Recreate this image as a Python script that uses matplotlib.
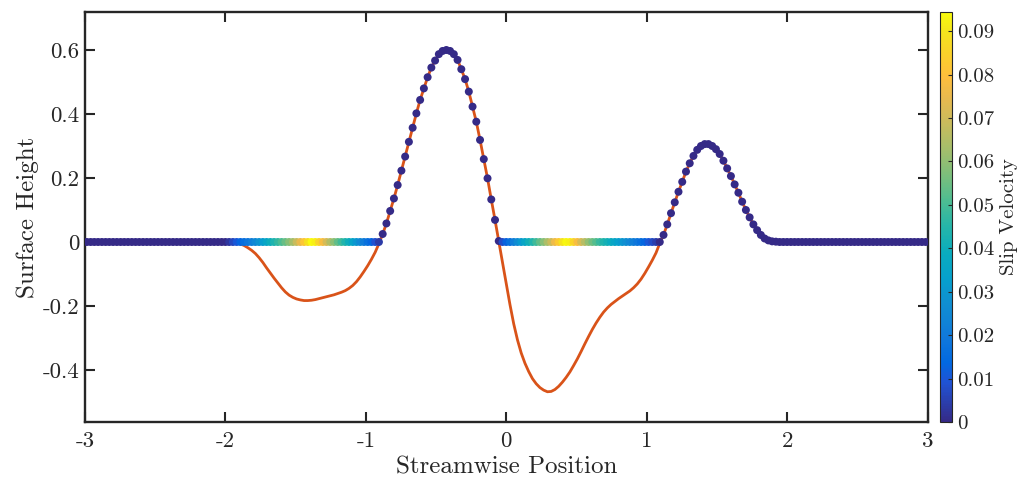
import numpy as np
import matplotlib
matplotlib.use("Agg")
import matplotlib.pyplot as plt
from matplotlib.colors import LinearSegmentedColormap

plt.rcParams['font.family'] = ['cmr10', 'DejaVu Serif']
plt.rcParams['mathtext.fontset'] = 'cm'
plt.rcParams['axes.unicode_minus'] = False

# cell-centred grid, 225 points on [-3, 3]
n_cells = 225
x_min, x_max = -3.0, 3.0

# surface profile (orange line), grid index 38..186, zero elsewhere
profile_start = 38
profile_vals = [
    0.000, -0.001, -0.003, -0.006, -0.011, -0.018, -0.026, -0.036, -0.049, -0.064,
    -0.081, -0.097, -0.113, -0.128, -0.143, -0.156, -0.166, -0.173, -0.178, -0.181,
    -0.183, -0.183, -0.182, -0.180, -0.177, -0.174, -0.171, -0.168, -0.165, -0.161,
    -0.157, -0.152, -0.145, -0.136, -0.124, -0.109, -0.092, -0.074, -0.054, -0.032,
    -0.005, 0.025, 0.058, 0.097, 0.136, 0.178, 0.223, 0.267, 0.313, 0.357,
    0.402, 0.444, 0.480, 0.515, 0.545, 0.567, 0.587, 0.597, 0.600, 0.597,
    0.587, 0.569, 0.540, 0.509, 0.470, 0.423, 0.376, 0.319, 0.259, 0.199,
    0.133, 0.069, 0.003, -0.064, -0.131, -0.196, -0.256, -0.306, -0.347, -0.379,
    -0.405, -0.427, -0.443, -0.455, -0.463, -0.468, -0.467, -0.461, -0.451, -0.438,
    -0.423, -0.406, -0.386, -0.365, -0.342, -0.318, -0.295, -0.273, -0.253, -0.235,
    -0.219, -0.206, -0.195, -0.186, -0.177, -0.169, -0.161, -0.153, -0.143, -0.131,
    -0.116, -0.098, -0.078, -0.057, -0.034, -0.004, 0.022, 0.055, 0.090, 0.124,
    0.157, 0.188, 0.220, 0.246, 0.269, 0.288, 0.300, 0.306, 0.306, 0.300,
    0.290, 0.275, 0.254, 0.230, 0.206, 0.180, 0.154, 0.126, 0.100, 0.077,
    0.055, 0.037, 0.022, 0.011, 0.005, 0.002, 0.001, 0.000, 0.000,
]

# slip velocity in the two non-contact zones
slip_left_start = 38
slip_left = [
    0.0028, 0.0066, 0.0103, 0.0132, 0.0160, 0.0188, 0.0216, 0.0244, 0.0282, 0.0320,
    0.0357, 0.0395, 0.0432, 0.0470, 0.0508, 0.0545, 0.0583, 0.0630, 0.0686, 0.0752,
    0.0818, 0.0884, 0.0944, 0.0921, 0.0855, 0.0780, 0.0714, 0.0649, 0.0592, 0.0536,
    0.0489, 0.0442, 0.0395, 0.0348, 0.0301, 0.0254, 0.0207, 0.0169, 0.0132, 0.0085,
    0.0038,
]
slip_right_start = 111
slip_right = [
    0.0075, 0.0122, 0.0169, 0.0216, 0.0263, 0.0310, 0.0357, 0.0404, 0.0442, 0.0489,
    0.0536, 0.0583, 0.0639, 0.0696, 0.0761, 0.0827, 0.0893, 0.0936, 0.0921, 0.0855,
    0.0780, 0.0714, 0.0658, 0.0602, 0.0555, 0.0517, 0.0479, 0.0442, 0.0414, 0.0385,
    0.0357, 0.0329, 0.0301, 0.0273, 0.0244, 0.0216, 0.0188, 0.0160, 0.0132, 0.0103,
    0.0075, 0.0047,
]

x_ticks = [-3, -2, -1, 0, 1, 2, 3]
y_ticks = [-0.4, -0.2, 0, 0.2, 0.4, 0.6]
y_ticklabels = ['-0.4', '-0.2', '0', '0.2', '0.4', '0.6']
cb_ticks = [0, 0.01, 0.02, 0.03, 0.04, 0.05, 0.06, 0.07, 0.08, 0.09]
cb_ticklabels = ['0', '0.01', '0.02', '0.03', '0.04', '0.05', '0.06', '0.07', '0.08', '0.09']

# parula-like colormap
parula_pts = [
    (0, (0.2081, 0.1663, 0.5292)), (6, (0.1253, 0.3242, 0.8303)),
    (9, (0.0060, 0.4086, 0.8828)), (13, (0.0629, 0.4737, 0.8554)),
    (18, (0.0641, 0.5570, 0.8240)), (22, (0.0239, 0.6287, 0.8038)),
    (26, (0.0384, 0.6743, 0.7436)), (30, (0.1453, 0.7098, 0.6646)),
    (34, (0.3022, 0.7376, 0.5712)), (38, (0.4871, 0.7491, 0.4840)),
    (42, (0.6473, 0.7456, 0.4188)), (46, (0.7858, 0.7356, 0.3633)),
    (50, (0.9139, 0.7258, 0.3063)), (53, (0.9938, 0.7455, 0.2403)),
    (56, (0.9880, 0.8066, 0.1794)), (60, (0.9589, 0.8949, 0.1132)),
    (63, (0.9763, 0.9831, 0.0538)),
]
parula = LinearSegmentedColormap.from_list('parula', [(i / 63, c) for i, c in parula_pts])

dx = (x_max - x_min) / n_cells
x = x_min + dx * (np.arange(n_cells) + 0.5)
profile = np.zeros(n_cells)
profile[profile_start:profile_start + len(profile_vals)] = profile_vals
surface = np.maximum(profile, 0.0)
slip = np.zeros(n_cells)
slip[slip_left_start:slip_left_start + len(slip_left)] = slip_left
slip[slip_right_start:slip_right_start + len(slip_right)] = slip_right

axcol = '#262626'
fig = plt.figure(figsize=(10.22, 4.87), dpi=100)
ax = fig.add_axes([85 / 1022, 65 / 487, 842.5 / 1022, 410 / 487])
cax = fig.add_axes([939.5 / 1022, 65 / 487, 12 / 1022, 410 / 487])

ax.plot(x, profile, color='#D95319', lw=2.0, zorder=2)
sc = ax.scatter(x, surface, c=slip, cmap=parula, vmin=0, vmax=slip.max(),
                s=33, linewidths=0, zorder=3)

ax.set_xlim(-3, 3)
ax.set_ylim(-0.5625, 0.71875)
ax.set_xticks(x_ticks)
ax.set_xticklabels([str(t) for t in x_ticks])
ax.set_yticks(y_ticks)
ax.set_yticklabels(y_ticklabels)
ax.tick_params(direction='in', top=True, right=True, length=7, width=1.5,
               labelsize=16.5, colors=axcol)
ax.tick_params(axis='x', pad=7)
ax.tick_params(axis='y', pad=4)
for sp in ax.spines.values():
    sp.set_linewidth(1.7)
    sp.set_color(axcol)
ax.set_xlabel('Streamwise Position', fontsize=18, color=axcol, labelpad=4)
ax.set_ylabel('Surface Height', fontsize=18, color=axcol, labelpad=3)

cb = fig.colorbar(sc, cax=cax)
cb.set_ticks(cb_ticks)
cb.set_ticklabels(cb_ticklabels)
cb.outline.set_linewidth(0.8)
cb.outline.set_edgecolor(axcol)
cax.tick_params(direction='in', length=3, width=0.8, labelsize=15, colors=axcol, pad=4)
cb.set_label('Slip Velocity', fontsize=15, color=axcol, labelpad=4)

fig.savefig('out.png', dpi=100)
